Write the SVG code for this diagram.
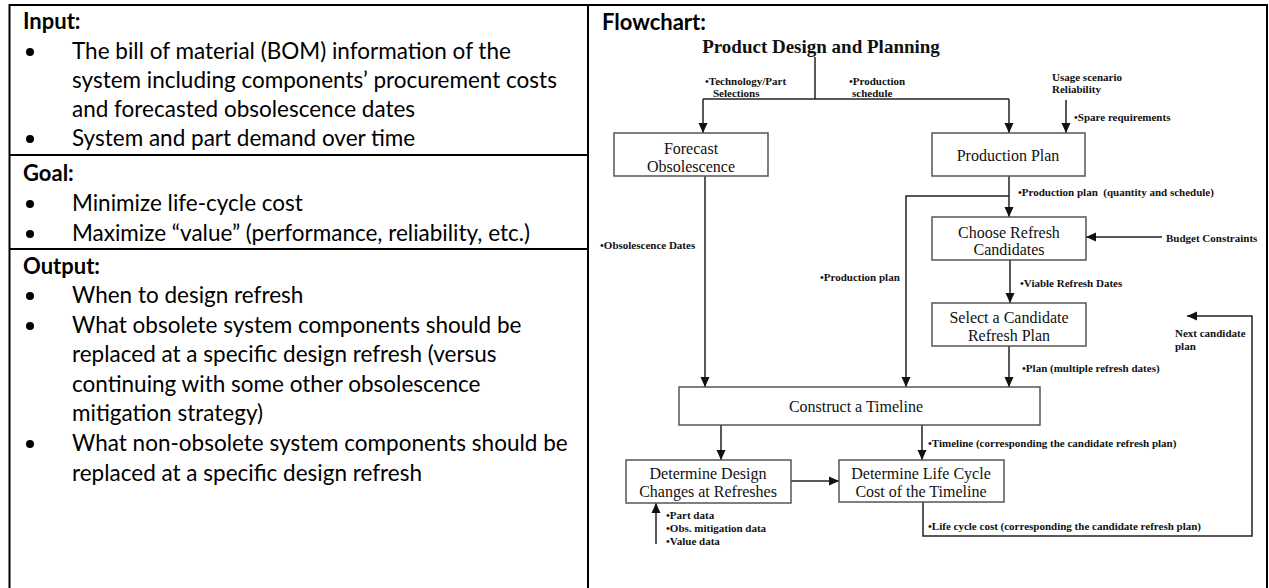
<svg xmlns="http://www.w3.org/2000/svg" width="1269" height="588" viewBox="0 0 1269 588">
<defs>
<marker id="ah" markerUnits="userSpaceOnUse" markerWidth="10" markerHeight="10" viewBox="0 0 10 10" refX="10" refY="5" orient="auto">
<path d="M0,0.5 L10,5 L0,9.5 z" fill="#111"/>
</marker>
</defs>
<style>
.tb{stroke:#000;stroke-width:2;fill:none}
.lt{font-family:Lato,"Liberation Sans",sans-serif;font-size:22.5px;fill:#000}
.hd{font-family:Lato,"Liberation Sans",sans-serif;font-size:22px;font-weight:bold;fill:#000}
.bl{fill:#000}
.box{fill:#fff;stroke:#555;stroke-width:1.5}
.nt{font-family:"Liberation Serif",serif;font-size:16px;fill:#111;text-anchor:middle}
.lb{font-family:"Liberation Serif",serif;font-size:11px;font-weight:bold;fill:#111}
.cn{stroke:#222;stroke-width:1.5;fill:none}
.ar{marker-end:url(#ah)}
</style>
<g id="table">
<line class="tb" x1="9.5" y1="5" x2="1268" y2="5"/>
<line class="tb" x1="9.5" y1="4" x2="9.5" y2="588"/>
<line class="tb" x1="588" y1="4" x2="588" y2="588"/>
<line class="tb" x1="1267" y1="4" x2="1267" y2="588"/>
<line class="tb" x1="9.5" y1="155" x2="588" y2="155"/>
<line class="tb" x1="9.5" y1="249" x2="588" y2="249"/>
</g>
<g id="input">
<text class="hd" x="23" y="29">Input:</text>
<circle class="bl" cx="30" cy="52" r="4"/>
<text class="lt" x="72" y="59">The bill of material (BOM) information of the</text>
<text class="lt" x="72" y="88">system including components’ procurement costs</text>
<text class="lt" x="72" y="117">and forecasted obsolescence dates</text>
<circle class="bl" cx="30" cy="139" r="4"/>
<text class="lt" x="72" y="146">System and part demand over time</text>
</g>
<g id="goal">
<text class="hd" x="23" y="181">Goal:</text>
<circle class="bl" cx="30" cy="204" r="4"/>
<text class="lt" x="72" y="211">Minimize life-cycle cost</text>
<circle class="bl" cx="30" cy="234" r="4"/>
<text class="lt" x="72" y="241">Maximize “value” (performance, reliability, etc.)</text>
</g>
<g id="output">
<text class="hd" x="23" y="274">Output:</text>
<circle class="bl" cx="30" cy="296" r="4"/>
<text class="lt" x="72" y="303">When to design refresh</text>
<circle class="bl" cx="30" cy="326" r="4"/>
<text class="lt" x="72" y="333">What obsolete system components should be</text>
<text class="lt" x="72" y="362">replaced at a specific design refresh (versus</text>
<text class="lt" x="72" y="392">continuing with some other obsolescence</text>
<text class="lt" x="72" y="421">mitigation strategy)</text>
<circle class="bl" cx="30" cy="444" r="4"/>
<text class="lt" x="72" y="451">What non-obsolete system components should be</text>
<text class="lt" x="72" y="481">replaced at a specific design refresh</text>
</g>
<g id="flowchart-heading">
<text class="hd" x="602" y="30">Flowchart:</text>
<text x="821" y="53" font-family="Liberation Serif, serif" font-size="19" font-weight="bold" fill="#111" text-anchor="middle">Product Design and Planning</text>
</g>
<g id="connectors">
<polyline class="cn" points="815,57 815,99"/>
<polyline class="cn" points="703,99 1009,99"/>
<line class="cn ar" x1="703" y1="99" x2="703" y2="133"/>
<line class="cn ar" x1="1009" y1="99" x2="1009" y2="133"/>
<line class="cn ar" x1="1066" y1="100" x2="1066" y2="133"/>
<line class="cn ar" x1="1009" y1="176" x2="1009" y2="217"/>
<polyline class="cn ar" points="1009,196 906,196 906,387"/>
<line class="cn ar" x1="705" y1="176" x2="705" y2="387"/>
<line class="cn ar" x1="1162" y1="237" x2="1086" y2="237"/>
<line class="cn ar" x1="1010" y1="260" x2="1010" y2="303"/>
<line class="cn ar" x1="1009" y1="346" x2="1009" y2="387"/>
<line class="cn ar" x1="721" y1="425" x2="721" y2="460"/>
<line class="cn ar" x1="922" y1="425" x2="922" y2="460"/>
<line class="cn ar" x1="791" y1="481" x2="839" y2="481"/>
<line class="cn ar" x1="656" y1="544" x2="656" y2="503"/>
<polyline class="cn ar" points="923,502 923,536 1252,536 1252,316 1187,316"/>
</g>
<g id="labels">
<text class="lb" x="705" y="85">•Technology/Part</text>
<text class="lb" x="713" y="97">Selections</text>
<text class="lb" x="849" y="85">•Production</text>
<text class="lb" x="852" y="97">schedule</text>
<text class="lb" x="1052" y="81">Usage scenario</text>
<text class="lb" x="1052" y="93">Reliability</text>
<text class="lb" x="1074" y="121">•Spare requirements</text>
<text class="lb" x="1018" y="196" style="white-space:pre">•Production plan  (quantity and schedule)</text>
<text class="lb" x="1166" y="242">Budget Constraints</text>
<text class="lb" x="1020" y="287">•Viable Refresh Dates</text>
<text class="lb" x="600" y="249">•Obsolescence Dates</text>
<text class="lb" x="820" y="281">•Production plan</text>
<text class="lb" x="1175" y="337">Next candidate</text>
<text class="lb" x="1175" y="350">plan</text>
<text class="lb" x="1022" y="372">•Plan (multiple refresh dates)</text>
<text class="lb" x="928" y="447">•Timeline (corresponding the candidate refresh plan)</text>
<text class="lb" x="666" y="519">•Part data</text>
<text class="lb" x="666" y="532">•Obs. mitigation data</text>
<text class="lb" x="666" y="545">•Value data</text>
<text class="lb" x="928" y="530">•Life cycle cost (corresponding the candidate refresh plan)</text>
</g>
<g id="forecast">
<rect class="box" x="614" y="133" width="154" height="43"/>
<text class="nt" x="691" y="154">Forecast</text>
<text class="nt" x="691" y="172">Obsolescence</text>
</g>
<g id="production-plan">
<rect class="box" x="932" y="133" width="153" height="43"/>
<text class="nt" x="1008" y="161">Production Plan</text>
</g>
<g id="choose">
<rect class="box" x="932" y="217" width="154" height="43"/>
<text class="nt" x="1009" y="238">Choose Refresh</text>
<text class="nt" x="1009" y="255">Candidates</text>
</g>
<g id="select">
<rect class="box" x="932" y="303" width="154" height="43"/>
<text class="nt" x="1009" y="323">Select a Candidate</text>
<text class="nt" x="1009" y="341">Refresh Plan</text>
</g>
<g id="timeline">
<rect class="box" x="679" y="387" width="361" height="38"/>
<text class="nt" x="856" y="412">Construct a Timeline</text>
</g>
<g id="design-changes">
<rect class="box" x="626" y="460" width="165" height="43"/>
<text class="nt" x="708" y="479">Determine Design</text>
<text class="nt" x="708" y="497">Changes at Refreshes</text>
</g>
<g id="lcc">
<rect class="box" x="839" y="460" width="165" height="42"/>
<text class="nt" x="921" y="479">Determine Life Cycle</text>
<text class="nt" x="921" y="497">Cost of the Timeline</text>
</g>
</svg>
